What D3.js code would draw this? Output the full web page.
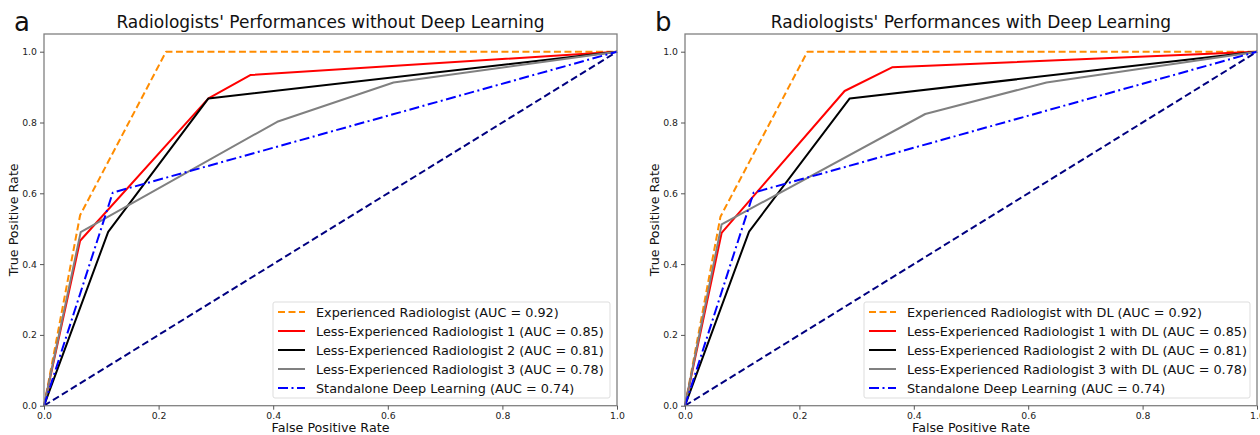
<!DOCTYPE html>
<html><head><meta charset="utf-8">
<script src="https://cdn.jsdelivr.net/npm/d3@7"></script>
<style>body{margin:0;background:#fff}svg{display:block}text{font-family:"DejaVu Sans",sans-serif}</style>
</head><body><svg id="c" width="1260" height="435"></svg>
<script>
const ticks = [0, 0.2, 0.4, 0.6, 0.8, 1.0];
const titles = ["Radiologists' Performances without Deep Learning", "Radiologists' Performances with Deep Learning"];
const panelLetters = ["a", "b"];
const seriesNamesA = ["Experienced Radiologist (AUC = 0.92)", "Less-Experienced Radiologist 1 (AUC = 0.85)", "Less-Experienced Radiologist 2 (AUC = 0.81)", "Less-Experienced Radiologist 3 (AUC = 0.78)", "Standalone Deep Learning (AUC = 0.74)"];
const seriesNamesB = ["Experienced Radiologist with DL (AUC = 0.92)", "Less-Experienced Radiologist 1 with DL (AUC = 0.85)", "Less-Experienced Radiologist 2 with DL (AUC = 0.81)", "Less-Experienced Radiologist 3 with DL (AUC = 0.78)", "Standalone Deep Learning (AUC = 0.74)"];
// panel a ROC points [fpr, tpr]
const expA = [[0,0],[0.063,0.538],[0.213,1],[1,1]];
const less1A = [[0,0],[0.063,0.466],[0.287,0.868],[0.36,0.934],[1,1]];
const less2A = [[0,0],[0.112,0.491],[0.287,0.868],[1,1]];
const less3A = [[0,0],[0.064,0.49],[0.407,0.802],[0.61,0.913],[1,1]];
const dlA = [[0,0],[0.12,0.602],[1,1]];
// panel b
const expB = [[0,0],[0.062,0.534],[0.214,1],[1,1]];
const less1B = [[0,0],[0.064,0.488],[0.279,0.889],[0.362,0.956],[1,1]];
const less2B = [[0,0],[0.112,0.492],[0.288,0.868],[1,1]];
const less3B = [[0,0],[0.064,0.512],[0.42,0.824],[0.632,0.913],[1,1]];
const dlB = [[0,0],[0.12,0.602],[1,1]];
const diag = [[0,0],[1,1]];

const styles = [
  {color:"darkorange", dash:"7,3.5"},
  {color:"red", dash:null},
  {color:"black", dash:null},
  {color:"gray", dash:null},
  {color:"blue", dash:"10,3.5,2,3.5"}
];

const svg = d3.select("#c");
const panels = [
  {x0:44, x1:617, data:[expA,less1A,less2A,less3A,dlA], names:seriesNamesA, legX:273, legW:337},
  {x0:685, x1:1257, data:[expB,less1B,less2B,less3B,dlB], names:seriesNamesB, legX:864, legW:386}
];
const yTop = 34, y0px = 405.7;

panels.forEach((p, i) => {
  const x = d3.scaleLinear().domain([0,1]).range([p.x0, p.x1]);
  const y = d3.scaleLinear().domain([0,1]).range([y0px, 51.7]);
  const g = svg.append("g");
  const line = d3.line().x(d=>x(d[0])).y(d=>y(d[1]));

  g.append("path").datum(diag).attr("d", line).attr("fill","none")
    .attr("stroke","navy").attr("stroke-width",2).attr("stroke-dasharray","7,3.5");
  p.data.forEach((s, k) => {
    g.append("path").datum(s).attr("d", line).attr("fill","none")
      .attr("stroke", styles[k].color).attr("stroke-width", 2)
      .attr("stroke-linejoin","round")
      .attr("stroke-dasharray", styles[k].dash);
  });

  g.append("rect").attr("x", p.x0).attr("y", yTop).attr("width", p.x1-p.x0).attr("height", y0px-yTop)
    .attr("fill","none").attr("stroke","#808080").attr("stroke-width",1.3);

  const xa = g.append("g").attr("transform",`translate(0,${y0px})`)
    .call(d3.axisBottom(x).tickValues(ticks).tickFormat(d3.format(".1f")).tickSize(4).tickPadding(3));
  const ya = g.append("g").attr("transform",`translate(${p.x0},0)`)
    .call(d3.axisLeft(y).tickValues(ticks).tickFormat(d3.format(".1f")).tickSize(4).tickPadding(3));
  [xa, ya].forEach(a => {
    a.select(".domain").remove();
    a.selectAll("line").attr("stroke","#555");
    a.selectAll("text").attr("font-size","9.3px").attr("fill","#222").style("font-family","DejaVu Sans");
  });

  g.append("text").attr("x", (p.x0+p.x1)/2).attr("y", 432).attr("text-anchor","middle")
    .attr("font-size","12.7px").attr("fill","#111").text("False Positive Rate");
  g.append("text").attr("transform",`translate(${p.x0-26},${(yTop+y0px)/2}) rotate(-90)`)
    .attr("text-anchor","middle").attr("font-size","12.7px").attr("fill","#111").text("True Positive Rate");
  g.append("text").attr("x", (p.x0+p.x1)/2).attr("y", 28).attr("text-anchor","middle")
    .attr("font-size","17px").attr("fill","#111").text(titles[i]);
  g.append("text").attr("x", p.x0-30).attr("y", 31).attr("font-size","26px").attr("fill","#111").text(panelLetters[i]);

  const lg = g.append("g");
  lg.append("rect").attr("x", p.legX).attr("y", 302).attr("width", p.legW).attr("height", 96)
    .attr("rx",2).attr("fill","white").attr("fill-opacity",0.8).attr("stroke","#ddd");
  p.names.forEach((n, k) => {
    const yy = 312 + k*19;
    lg.append("line").attr("x1", p.legX+5).attr("x2", p.legX+32).attr("y1", yy).attr("y2", yy)
      .attr("stroke", styles[k].color).attr("stroke-width",2).attr("stroke-dasharray", styles[k].dash);
    lg.append("text").attr("x", p.legX+43).attr("y", yy+4.5).attr("font-size","12.8px").attr("fill","#111").text(n);
  });
});
</script></body></html>
